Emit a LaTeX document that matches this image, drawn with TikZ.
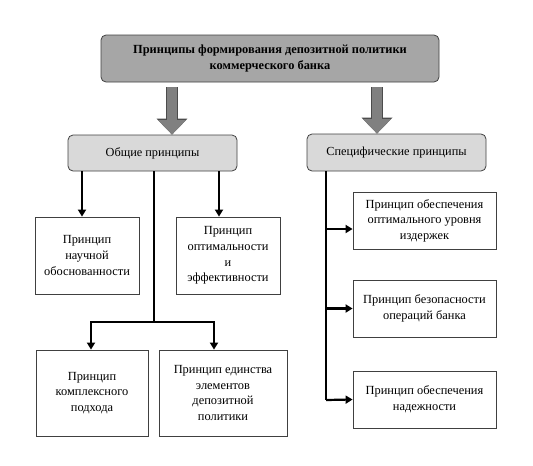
\documentclass[tikz,border=0pt]{standalone}
\usepackage{fontspec}
\setmainfont{Liberation Serif}
\usetikzlibrary{arrows.meta}

\begin{document}
\begin{tikzpicture}[x=1pt, y=-1pt,
        >={Triangle[length=7pt, width=8pt]},
        head/.style={shape=rectangle, rounded corners=5pt, draw=black!75, line width=0.8pt, fill=black!35, align=center, inner sep=0pt, font=\fontsize{12.4}{16.5}\selectfont\bfseries},
        group/.style={shape=rectangle, rounded corners=5pt, draw=black!75, line width=0.8pt, fill=black!15, inner sep=0pt, font=\fontsize{12.3}{14}\selectfont},
        item/.style={shape=rectangle, draw=black!75, line width=0.8pt, fill=white, align=center, inner sep=0pt, font=\fontsize{12.4}{15.6}\selectfont},
        link/.style={line width=2.2pt},
        bigarrow/.style={draw=black!50, line width=10.5pt, -{Triangle[length=14.5pt, width=27pt]},
            preaction={draw=black!70, line width=12pt, -{Triangle[length=16pt, width=30pt]}}}]
        \useasboundingbox (0,0) rectangle (533,466);

        \node[head, minimum width=338pt, minimum height=47pt] (top) at (270,58.5) {Принципы формирования депозитной политики\\коммерческого банка};
        \node[group, minimum width=169pt, minimum height=36pt] (gen) at (152.5,153) {Общие принципы};
        \node[group, minimum width=179pt, minimum height=37pt] (spec) at (396.5,152.5) {Специфические принципы};

        \node[item, minimum width=104pt, minimum height=77pt] (sci) at (87,255.5) {Принцип\\научной\\обоснованности};
        \node[item, minimum width=104pt, minimum height=77pt] (opt) at (228,255.5) {Принцип\\оптимальности\\и\\эффективности};
        \node[item, minimum width=112pt, minimum height=86pt] (cmp) at (92,393) {Принцип\\комплексного\\подхода};
        \node[item, minimum width=128pt, minimum height=86pt] (uni) at (223,393) {Принцип единства\\элементов\\депозитной\\политики};

        \node[item, minimum width=143pt, minimum height=57pt] (cost) at (424.5,220.5) {Принцип обеспечения\\оптимального уровня\\издержек};
        \node[item, minimum width=143pt, minimum height=57pt] (safe) at (424.5,308.5) {Принцип безопасности\\операций банка};
        \node[item, minimum width=143pt, minimum height=57pt] (rel) at (424.5,399.5) {Принцип обеспечения\\надежности};

        \coordinate (fork) at (154,322);
        \coordinate (trunk) at (326,400);

        \draw[bigarrow] ([yshift=-5pt]top.south -| 172,0) -- (gen.north -| 172,0);
        \draw[bigarrow] ([yshift=-5pt]top.south -| 377,0) -- (spec.north -| 377,0);

        \draw[link, ->] (gen.south -| 82,0) -- (sci.north -| 82,0);
        \draw[link, ->] (gen.south -| 219,0) -- (opt.north -| 219,0);
        \draw[link] (gen.south -| fork) -- (fork);
        \draw[link, ->] (fork) -| (cmp.north -| 91,0);
        \draw[link, ->] (fork) -| (uni.north -| 214,0);

        \draw[link] (spec.south -| trunk) -- (trunk);
        \draw[link, ->] ([yshift=-8.5pt]cost.west -| trunk) -- ([yshift=-8.5pt]cost.west);
        \draw[link, ->] (safe.west -| trunk) -- (safe.west);
        \draw[link, ->] (trunk) -- (rel.west);

    \end{tikzpicture}
\end{document}
